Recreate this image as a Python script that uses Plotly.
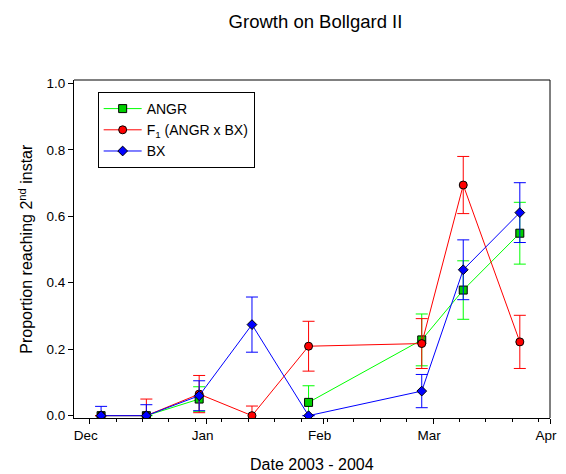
import plotly.graph_objects as go

# ---- data ----
dates = ["2003-12-04", "2003-12-16", "2003-12-30", "2004-01-13",
         "2004-01-28", "2004-02-27", "2004-03-09", "2004-03-24"]

angr_y = [0.0, 0.0, 0.050, None, 0.040, 0.228, 0.378, 0.549]
angr_err = [None, None, 0.037, None, 0.050, 0.078, 0.088, 0.093]

f1_y = [0.0, 0.0, 0.065, 0.0, 0.209, 0.217, 0.694, 0.222]
f1_err = [None, 0.050, 0.056, 0.029, 0.075, 0.075, 0.086, 0.080]

bx_y = [0.0, 0.0, 0.060, 0.274, 0.0, 0.074, 0.439, 0.611]
bx_err = [0.028, 0.033, 0.045, 0.083, None, 0.050, 0.090, 0.090]

month_ticks = ["2003-12-01", "2004-01-01", "2004-02-01", "2004-03-01", "2004-04-01"]
month_labels = ["Dec", "Jan", "Feb", "Mar", "Apr"]
y_ticks = [0.0, 0.2, 0.4, 0.6, 0.8, 1.0]

FONT = "Liberation Sans, Arial, sans-serif"

fig = go.Figure()


def add_series(name, y, err, line_color, fill, symbol, size):
    fig.add_trace(go.Scatter(
        x=dates, y=y, name=name, mode="lines+markers",
        connectgaps=False,
        line=dict(color=line_color, width=1),
        marker=dict(symbol=symbol, size=size, color=fill,
                    line=dict(color="black", width=1)),
        error_y=dict(type="data", array=err, visible=True,
                     color=line_color, thickness=1, width=6),
    ))


add_series("ANGR", angr_y, angr_err, "#00ff00", "#00d000", "square", 8)
add_series("F<sub>1</sub> (ANGR x BX)", f1_y, f1_err, "#ff0000", "#ff0000", "circle", 8)
add_series("BX", bx_y, bx_err, "#0000ff", "#0000ff", "diamond", 7.5)

fig.update_layout(
    width=566, height=474,
    margin=dict(l=74, r=9, t=80, b=56),
    paper_bgcolor="white", plot_bgcolor="white",
    font=dict(family=FONT, size=14, color="black"),
    showlegend=True,
    legend=dict(x=0.0497, y=0.9645, xanchor="left", yanchor="top",
                bordercolor="black", borderwidth=1, bgcolor="white",
                itemwidth=38,
                font=dict(family=FONT, size=14, color="black")),
    title=dict(text="Growth on Bollgard II", x=315.5 / 566, xanchor="center",
               y=1 - 21.5 / 474, yanchor="middle",
               font=dict(family=FONT, size=18.5, color="black")),
)

fig.update_xaxes(
    type="date",
    range=["2003-11-26 19:40", "2004-04-01"],
    tickmode="array", tickvals=month_ticks, ticktext=month_labels,
    ticks="outside", ticklen=5, tickcolor="black", tickwidth=1,
    ticklabelshift=-4,
    minor=dict(dtick=7 * 86400000, tick0="2003-12-01", ticks="outside",
               ticklen=3, tickcolor="black", tickwidth=1, showgrid=False),
    showline=True, linecolor="black", linewidth=1,
    showgrid=False, zeroline=False,
    tickfont=dict(family=FONT, size=13.5, color="black"),
)

fig.update_yaxes(
    range=[-0.007, 1.010],
    tickmode="array", tickvals=y_ticks, ticktext=[f"{v:.1f}" for v in y_ticks],
    ticks="outside", ticklen=5, tickcolor="black", tickwidth=1,
    showline=True, linecolor="black", linewidth=1,
    showgrid=False, zeroline=False,
    tickfont=dict(family=FONT, size=13.5, color="black"),
)

# frame: top (gray) and right (black)
fig.add_shape(type="line", xref="paper", yref="paper", x0=0, x1=1, y0=1, y1=1,
              line=dict(color="#808080", width=2))
fig.add_shape(type="line", xref="paper", yref="paper", x0=1, x1=1, y0=0, y1=1,
              line=dict(color="black", width=1))

# axis titles
fig.add_annotation(text="Proportion reaching 2<sup>nd</sup> instar",
                   xref="paper", yref="paper", x=(25 - 74) / 483, y=0.5,
                   xanchor="center", yanchor="middle", textangle=-90,
                   showarrow=False, font=dict(family=FONT, size=16, color="black"))
fig.add_annotation(text="Date 2003 - 2004",
                   xref="paper", yref="paper", x=(316 - 74) / 483, y=(418 - 464) / 338,
                   xanchor="center", yanchor="middle",
                   showarrow=False, font=dict(family=FONT, size=16, color="black"))

fig.write_html("out.html")
